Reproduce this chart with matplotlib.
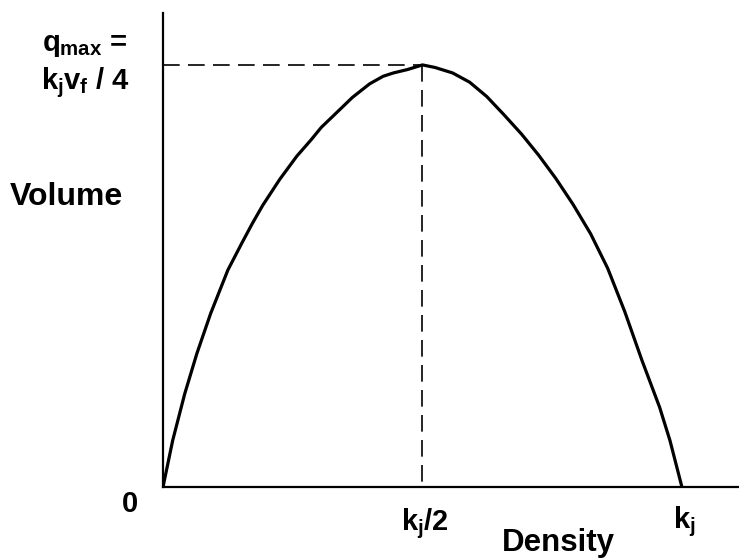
import numpy as np
import matplotlib
matplotlib.use("Agg")
import matplotlib.pyplot as plt

plt.rcParams['font.family'] = ['Liberation Sans', 'DejaVu Sans']
plt.rcParams['font.weight'] = 'bold'
plt.rcParams['mathtext.fontset'] = 'custom'
plt.rcParams['mathtext.rm'] = 'Liberation Sans:bold'
plt.rcParams['mathtext.it'] = 'Liberation Sans:bold'
plt.rcParams['mathtext.bf'] = 'Liberation Sans:bold'

# flow curve, density as a fraction of jam density, volume as a fraction of q_max
density = [0.0, 0.0186, 0.0419, 0.0652, 0.0918, 0.125, 0.152, 0.172, 0.192,
           0.225, 0.258, 0.285, 0.305, 0.338, 0.365, 0.398, 0.424, 0.444,
           0.471, 0.5, 0.524, 0.558, 0.591, 0.624, 0.657, 0.691, 0.724,
           0.757, 0.790, 0.824, 0.857, 0.890, 0.923, 0.957, 0.977, 1.0]
volume = [0.0, 0.110, 0.221, 0.316, 0.411, 0.514, 0.578, 0.624, 0.667,
          0.729, 0.784, 0.822, 0.852, 0.891, 0.923, 0.955, 0.973, 0.981,
          0.989, 1.0, 0.994, 0.981, 0.959, 0.925, 0.882, 0.836, 0.786,
          0.731, 0.670, 0.600, 0.518, 0.415, 0.300, 0.189, 0.110, 0.0]

k_half = 0.5
k_jam = 1.0
q_max = 1.0

W, H = 739, 558
fig = plt.figure(figsize=(W / 100, H / 100), dpi=100)
ax = fig.add_axes([163 / W, 71 / H, (W - 163) / W, (487 - 13) / H])

ax.plot(density, volume, color='black', lw=2.3, solid_joinstyle='round')
ax.plot([0, k_half], [q_max, q_max], color='black', lw=1.2, dashes=(10, 5))
ax.plot([k_half, k_half], [q_max, 0], color='black', lw=1.2, dashes=(10, 5))

ax.set_xlim(0, 1.11)
ax.set_ylim(0, 1.123)
for s in ['top', 'right']:
    ax.spines[s].set_visible(False)
for s in ['left', 'bottom']:
    ax.spines[s].set_linewidth(1.6)
    ax.spines[s].set_color('black')
ax.set_xticks([])
ax.set_yticks([])


def px(x, y):
    return x / W, 1 - y / H


fig.text(*px(66, 197), 'Volume', fontsize=23, ha='center', va='center')
fig.text(*px(558, 551), 'Density', fontsize=22.5, ha='center', va='baseline')
fig.text(*px(130, 512), '0', fontsize=21, ha='center', va='baseline')
ax.text(k_half, 0, '$k_j/2$', fontsize=21, ha='center', va='baseline',
        transform=ax.get_xaxis_transform(), position=(k_half + 0.004, -(530 - 487) / 474))
ax.text(k_jam, 0, '$k_j$', fontsize=21, ha='center', va='baseline',
        transform=ax.get_xaxis_transform(), position=(k_jam + 0.004, -(528 - 487) / 474))
fig.text(*px(85, 51), '$q_{max}$ =', fontsize=21, ha='center', va='baseline')
fig.text(*px(85, 89), '$k_jv_f$ / 4', fontsize=21, ha='center', va='baseline')

fig.savefig('out.png', dpi=100)
